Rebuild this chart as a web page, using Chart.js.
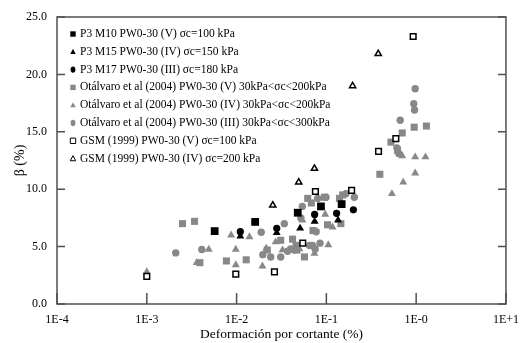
<!DOCTYPE html>
<html>
<head>
<meta charset="utf-8">
<script src="https://cdn.jsdelivr.net/npm/chart.js@4.4.0/dist/chart.umd.min.js"></script>
<style>
  html, body { margin: 0; padding: 0; background: #fff; }
  #wrap { width: 520px; height: 343px; }
</style>
</head>
<body>
<div id="wrap"><canvas id="chart" width="520" height="343"></canvas></div>
<script>
// axis ticks
const xTickValues = [1e-4, 1e-3, 1e-2, 1e-1, 1, 10];
const xTickLabels = ['1E-4', '1E-3', '1E-2', '1E-1', '1E-0', '1E+1'];
const yTickValues = [0, 5, 10, 15, 20, 25];

// P3 M10 PW0-30 (V)
const m10X = [0.0057, 0.0161, 0.048, 0.087, 0.148];
const m10Y = [6.35, 7.15, 7.95, 8.5, 8.7];
// P3 M15 PW0-30 (IV)
const m15X = [0.011, 0.028, 0.051, 0.074, 0.135];
const m15Y = [5.9, 6.2, 6.6, 7.2, 7.3];
// P3 M17 PW0-30 (III)
const m17X = [0.011, 0.028, 0.074, 0.13, 0.2];
const m17Y = [6.3, 6.6, 7.8, 7.9, 8.2];

// Otálvaro et al (2004) (V)
const otaVX = [0.0025, 0.0034, 0.0039, 0.0077, 0.0128, 0.022, 0.031, 0.042, 0.046, 0.047,
               0.057, 0.062, 0.068, 0.071, 0.095, 0.103, 0.14, 0.145, 0.152, 0.394,
               0.524, 0.62, 0.70, 0.95, 1.3];
const otaVY = [7.0, 7.2, 3.6, 3.75, 3.85, 4.7, 5.55, 5.65, 5.1, 4.7,
               4.1, 9.2, 8.8, 6.4, 9.3, 6.9, 9.2, 7.0, 9.5, 11.3,
               14.1, 13.4, 14.9, 15.4, 15.5];
// Otálvaro et al (2004) (IV)
const otaIVX = [0.001, 0.0036, 0.0049, 0.0087, 0.0098, 0.0098, 0.0139, 0.0194, 0.0214, 0.0272,
                0.0325, 0.05, 0.054, 0.0736, 0.097, 0.105, 0.117, 0.537, 0.70, 0.718,
                0.975, 0.975, 1.27];
const otaIVY = [2.8, 3.6, 4.75, 6.0, 4.75, 3.4, 5.85, 3.3, 4.85, 5.4,
                4.7, 4.8, 7.3, 4.4, 7.8, 5.15, 6.7, 9.6, 12.9, 10.6,
                11.4, 12.8, 12.8];
// Otálvaro et al (2004) (III)
const otaIIIX = [0.0021, 0.0041, 0.0188, 0.0196, 0.024, 0.031, 0.034, 0.037, 0.040, 0.044,
                 0.052, 0.054, 0.065, 0.07, 0.075, 0.077, 0.08, 0.085, 0.099, 0.165,
                 0.205, 0.61, 0.64, 0.664, 0.94, 0.96, 0.975];
const otaIIIY = [4.45, 4.75, 6.25, 4.3, 4.1, 4.1, 7.0, 4.6, 4.8, 4.7,
                 7.5, 8.5, 5.1, 5.1, 4.8, 6.3, 9.2, 5.3, 9.3, 9.6,
                 9.3, 13.6, 13.1, 16.0, 17.45, 16.9, 18.75];

// GSM (1999) (V)
const gsmVX = [0.001, 0.0098, 0.0264, 0.0546, 0.0755, 0.191, 0.381, 0.594, 0.926];
const gsmVY = [2.4, 2.6, 2.8, 5.3, 9.8, 9.9, 13.3, 14.4, 23.3];
// GSM (1999) (IV)
const gsmIVX = [0.0253, 0.0492, 0.0736, 0.196, 0.378];
const gsmIVY = [8.6, 10.6, 11.8, 19.0, 21.8];

const seriesLabels = [
  'P3 M10 PW0-30 (V) σc=100 kPa',
  'P3 M15 PW0-30 (IV) σc=150 kPa',
  'P3 M17 PW0-30 (III) σc=180 kPa',
  'Otálvaro et al (2004) PW0-30 (V) 30kPa<σc<200kPa',
  'Otálvaro et al (2004) PW0-30 (IV) 30kPa<σc<200kPa',
  'Otálvaro et al (2004) PW0-30 (III) 30kPa<σc<300kPa',
  'GSM (1999) PW0-30 (V) σc=100 kPa',
  'GSM (1999) PW0-30 (IV) σc=200 kPa'
];

const FONT = "'Liberation Serif', 'Times New Roman', serif";
const GRAY = '#888888';
const FRAME = '#505050';

function toPoints(xs, ys) {
  return xs.map((x, i) => ({ x: x, y: ys[i] }));
}

function makeSet(label, xs, ys, style, fill, stroke, radius, order) {
  return {
    label: label,
    data: toPoints(xs, ys),
    pointStyle: style,
    pointRadius: radius,
    pointBackgroundColor: fill,
    pointBorderColor: stroke,
    pointBorderWidth: fill === '#ffffff' ? 1.5 : 0,
    showLine: false,
    order: order
  };
}

const datasets = [
  makeSet(seriesLabels[0], m10X, m10Y, 'rect', '#000', '#000', 5.5, 1),
  makeSet(seriesLabels[1], m15X, m15Y, 'triangle', '#000', '#000', 4.6, 1),
  makeSet(seriesLabels[2], m17X, m17Y, 'circle', '#000', '#000', 3.6, 1),
  makeSet(seriesLabels[3], otaVX, otaVY, 'rect', GRAY, GRAY, 5, 3),
  makeSet(seriesLabels[4], otaIVX, otaIVY, 'triangle', GRAY, GRAY, 4.6, 3),
  makeSet(seriesLabels[5], otaIIIX, otaIIIY, 'circle', GRAY, GRAY, 3.7, 3),
  makeSet(seriesLabels[6], gsmVX, gsmVY, 'rect', '#ffffff', '#000', 4, 2),
  makeSet(seriesLabels[7], gsmIVX, gsmIVY, 'triangle', '#ffffff', '#000', 3.6, 2)
];

function drawMarker(ctx, style, x, y, r) {
  ctx.beginPath();
  if (style === 'rect') {
    ctx.rect(x - r, y - r, 2 * r, 2 * r);
  } else if (style === 'triangle') {
    ctx.moveTo(x, y - r * 1.1);
    ctx.lineTo(x + r, y + r * 0.8);
    ctx.lineTo(x - r, y + r * 0.8);
    ctx.closePath();
  } else {
    ctx.ellipse(x, y, r * 0.8, r * 1.05, 0, 0, Math.PI * 2);
  }
}

// frame and inward tick marks
const framePlugin = {
  id: 'frame',
  afterDraw(chart) {
    const { ctx, chartArea: a, scales } = chart;
    ctx.save();
    ctx.strokeStyle = FRAME;
    ctx.lineWidth = 1.5;
    ctx.strokeRect(a.left, a.top, a.right - a.left, a.bottom - a.top);
    ctx.beginPath();
    yTickValues.forEach(v => {
      const py = scales.y.getPixelForValue(v);
      ctx.moveTo(a.left, py); ctx.lineTo(a.left + 8, py);
      ctx.moveTo(a.right - 8, py); ctx.lineTo(a.right, py);
    });
    xTickValues.forEach(v => {
      const px = scales.x.getPixelForValue(v);
      ctx.moveTo(px, a.bottom); ctx.lineTo(px, a.bottom - 11);
    });
    ctx.stroke();
    ctx.restore();
  }
};

// legend inside the plot, upper left
const legendPlugin = {
  id: 'innerLegend',
  afterDatasetsDraw(chart) {
    const { ctx, chartArea: a } = chart;
    ctx.save();
    ctx.font = '11.5px ' + FONT;
    ctx.textBaseline = 'middle';
    ctx.textAlign = 'left';
    chart.data.datasets.forEach((ds, i) => {
      const y = a.top + 17 + i * 17.8;
      const mx = a.left + 16;
      ctx.fillStyle = ds.pointBackgroundColor;
      ctx.strokeStyle = ds.pointBorderColor;
      ctx.lineWidth = 1;
      drawMarker(ctx, ds.pointStyle, mx, y, ds.pointStyle === 'circle' ? 3 : 2.7);
      ctx.fill();
      if (ds.pointBorderWidth > 0) ctx.stroke();
      ctx.fillStyle = '#000';
      ctx.fillText(ds.label, a.left + 23, y);
    });
    ctx.restore();
  }
};

new Chart(document.getElementById('chart'), {
  type: 'scatter',
  data: { datasets: datasets },
  options: {
    responsive: false,
    animation: false,
    layout: { padding: { top: 17, right: 13, left: 0, bottom: 0 } },
    plugins: {
      legend: { display: false },
      tooltip: { enabled: false }
    },
    scales: {
      x: {
        type: 'logarithmic',
        min: 1e-4,
        max: 10,
        afterBuildTicks: scale => {
          scale.ticks = xTickValues.map(v => ({ value: v, major: true }));
        },
        afterFit: scale => { scale.height = 39; },
        grid: { display: false },
        border: { display: false },
        ticks: {
          autoSkip: false,
          maxRotation: 0,
          padding: 1,
          color: '#000',
          font: { family: FONT, size: 12 },
          callback: (value, index) => xTickLabels[index]
        },
        title: {
          display: true,
          text: 'Deformación por cortante (%)',
          color: '#000',
          font: { family: FONT, size: 13.5 },
          padding: { top: 0, bottom: 0 }
        }
      },
      y: {
        min: 0,
        max: 25,
        afterBuildTicks: scale => {
          scale.ticks = yTickValues.map(v => ({ value: v }));
        },
        afterFit: scale => { scale.width = 57; },
        grid: { display: false },
        border: { display: false },
        ticks: {
          padding: 2,
          color: '#000',
          font: { family: FONT, size: 12 },
          callback: value => Number(value).toFixed(1)
        },
        title: {
          display: true,
          text: 'β (%)',
          color: '#000',
          font: { family: FONT, size: 14 },
          padding: { top: 12, bottom: 0 }
        }
      }
    }
  },
  plugins: [framePlugin, legendPlugin]
});
</script>
</body>
</html>
